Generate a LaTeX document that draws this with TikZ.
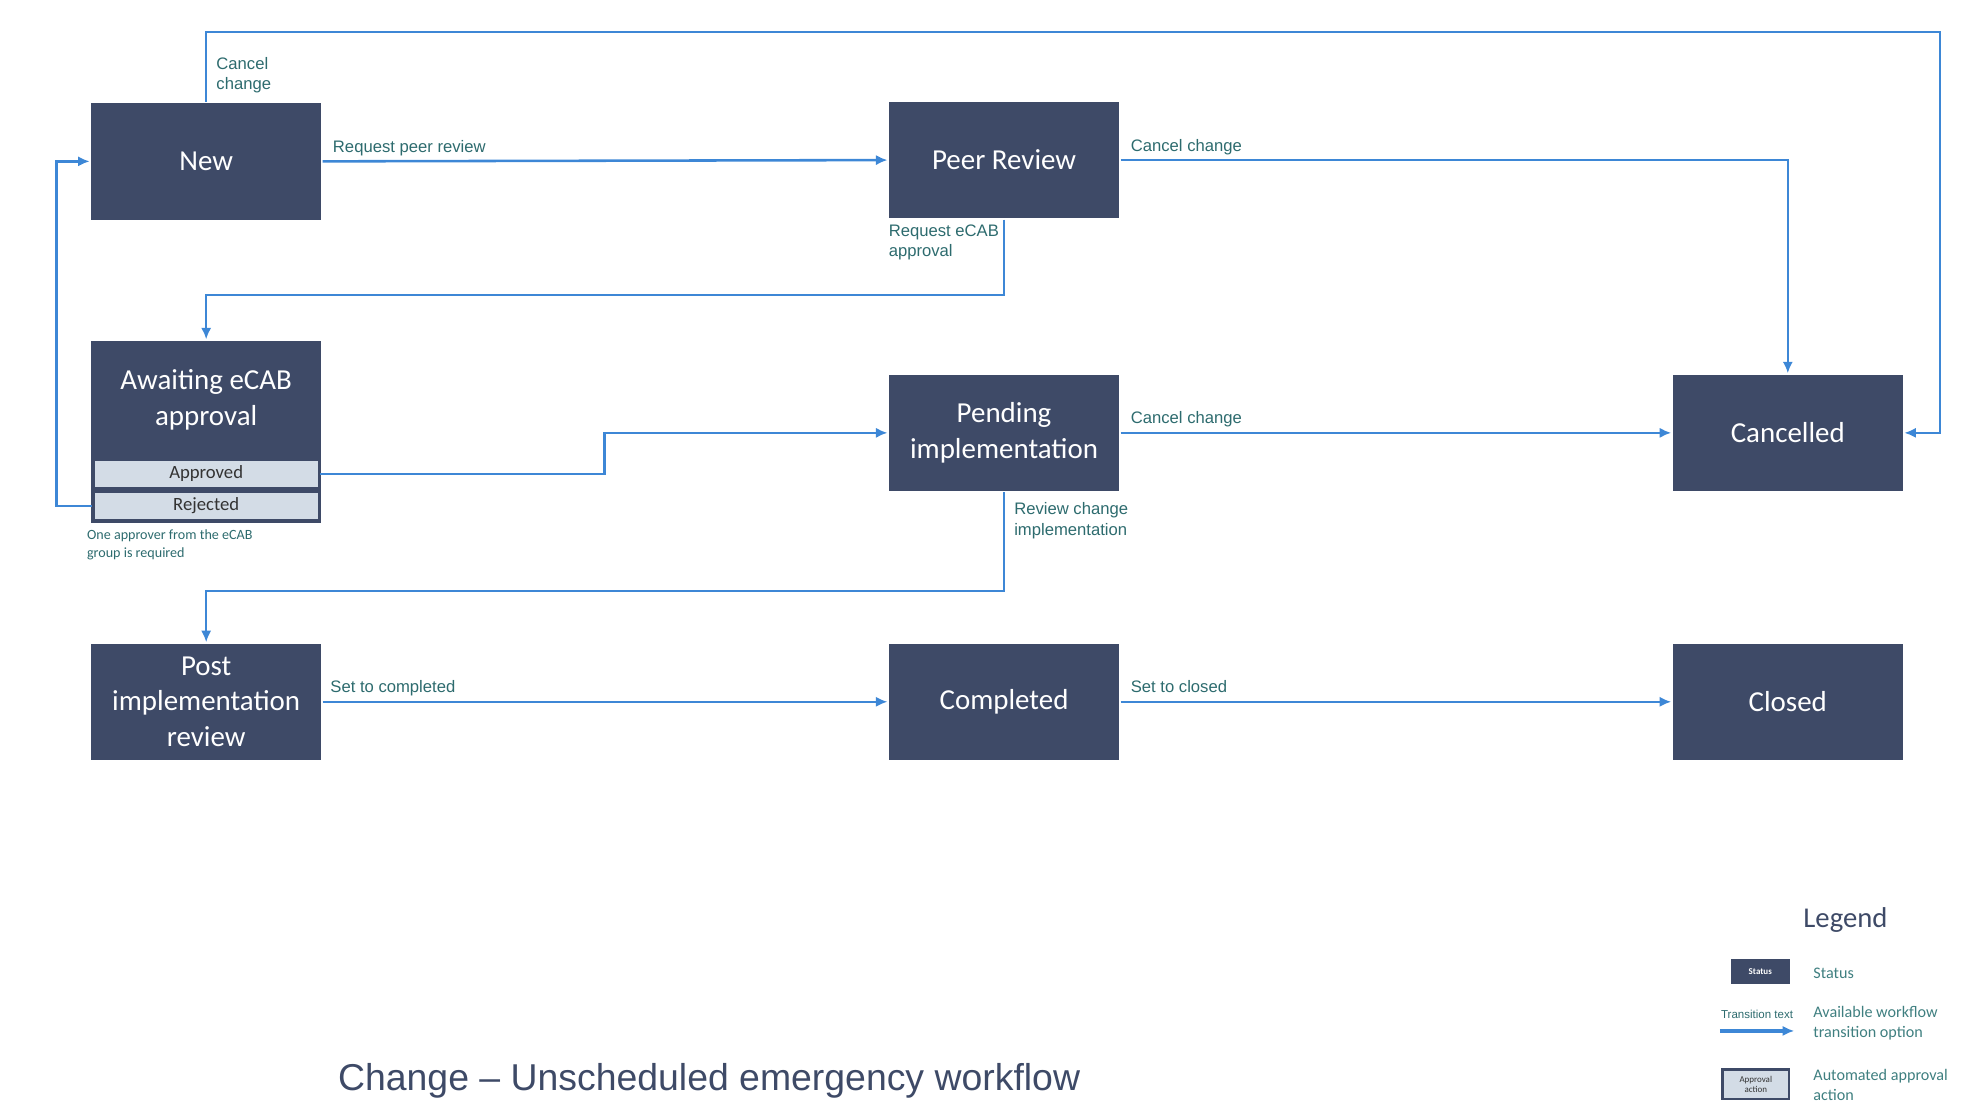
\documentclass[tikz,border=0pt]{standalone}
\usepackage{fontspec}
\setmainfont{Carlito}
\newfontfamily\arialfont{Liberation Sans}
\usetikzlibrary{arrows.meta}
\definecolor{StateBlue}{HTML}{3E4A67}
\definecolor{FlowBlue}{HTML}{3D87D6}
\definecolor{LabelTeal}{HTML}{2D6B6E}
\definecolor{LegendTeal}{HTML}{3F7F80}
\definecolor{ApproveGrey}{HTML}{D3DCE6}

\begin{document}
\begin{tikzpicture}[x=0.5pt, y=-0.5pt, -{Latex[length=4.5pt, width=4pt]}, line width=1pt,
        every node/.append style={inner sep=1.5pt}]
      \tikzstyle{status} = [rectangle, fill=StateBlue, text=white, minimum width=90pt, minimum height=45.5pt,
        align=center, inner sep=0pt, font=\fontsize{11.3}{14}\selectfont]
      \tikzstyle{approval} = [rectangle, fill=ApproveGrey, draw=StateBlue, line width=1pt, minimum width=88pt,
        minimum height=11pt, inner sep=0pt, text=black!80, font=\fontsize{7.3}{8}\selectfont]
      \tikzstyle{trans} = [draw=FlowBlue]
      \tikzstyle{lbl} = [font=\arialfont\fontsize{6.5}{8}\selectfont, text=LabelTeal, align=left, text depth=1.5pt]
      \tikzstyle{legtxt} = [font=\fontsize{6.3}{8}\selectfont, text=LegendTeal, align=left, anchor=west]
      \useasboundingbox (0,0) rectangle (1550,872);
      % states
      \node (new) [status] at (161,126) {New};
      \node (peer) [status] at (784,125) {Peer Review};
      \node (await) [status, minimum height=71pt] at (161,337) {};
      \node (awaittxt) [status, fill=none] at (161,312) {Awaiting eCAB\\approval};
      \node (approved) [approval] at (161,370) {Approved};
      \node (rejected) [approval] at (161,395) {Rejected};
      \node (pending) [status] at (784,338) {Pending\\implementation};
      \node (cancelled) [status] at (1396,338) {Cancelled};
      \node (post) [status] at (161,548) {Post\\implementation\\review};
      \node (completed) [status] at (784,548) {Completed};
      \node (closed) [status] at (1396,548) {Closed};
      \node (note) [lbl, anchor=north west, font=\fontsize{5.5}{6.7}\selectfont] at (64,410)
        {One approver from the eCAB\\group is required};
      \coordinate (topright) at (1515,25);
      % transitions
      \draw[trans] (new.north) -- node[lbl, right, pos=0.38, xshift=2pt] {Cancel\\change} (new.north |- topright)
        -- (topright) |- (cancelled.east);
      \draw[trans] (new.east) -- node[lbl, pos=0, anchor=south west, xshift=2pt] {Request peer review} (peer.west);
      \draw[trans] (peer.east) -| node[lbl, pos=0, anchor=south west, xshift=2pt] {Cancel change} (cancelled.north);
      \draw[trans] (peer.south) -- node[lbl, pos=0, anchor=north east] {Request eCAB\\approval} ++(0,59)
        -| (await.north);
      \draw[trans] (approved.east) -- ++(222,0) |- (pending.west);
      \draw[trans] (rejected.west) -- ++(-28,0) |- (new.west);
      \draw[trans] (pending.east) -- node[lbl, pos=0, anchor=south west, xshift=2pt] {Cancel change} (cancelled.west);
      \draw[trans] (pending.south) -- node[lbl, pos=0, anchor=north west, xshift=2pt, yshift=-2pt]
        {Review change\\implementation} ++(0,77) -| (post.north);
      \draw[trans] (post.east) -- node[lbl, pos=0, anchor=south west, xshift=1pt] {Set to completed} (completed.west);
      \draw[trans] (completed.east) -- node[lbl, pos=0, anchor=south west, xshift=2pt] {Set to closed} (closed.west);
      % title and legend
      \node (title) [anchor=west, inner sep=0pt, text=StateBlue, font=\arialfont\fontsize{14.6}{16}\selectfont]
        at (263,844) {Change – Unscheduled emergency workflow};
      \node (legend) [text=StateBlue, font=\fontsize{11.2}{13}\selectfont] at (1441,718) {Legend};
      \node (legstatus) [status, minimum width=23pt, minimum height=10pt, font=\fontsize{3.5}{4}\selectfont\bfseries]
        at (1374.5,758.5) {Status};
      \node (legstatustxt) [legtxt] at (1412,760) {Status};
      \coordinate (legfrom) at (1343,805);
      \coordinate (legto) at (1401,805);
      \draw[trans, line width=1.5pt] (legfrom) -- node[lbl, above, yshift=1pt, font=\arialfont\fontsize{4.5}{5}\selectfont]
        {Transition text} (legto);
      \node (legflowtxt) [legtxt] at (1412,799) {Available workflow\\transition option};
      \node (legapproval) [approval, minimum width=26pt, minimum height=11.5pt, align=center,
        font=\fontsize{3.5}{4}\selectfont] at (1371,846.5) {Approval\\action};
      \node (legapprovaltxt) [legtxt] at (1412,847) {Automated approval\\action};
    \end{tikzpicture}
\end{document}
